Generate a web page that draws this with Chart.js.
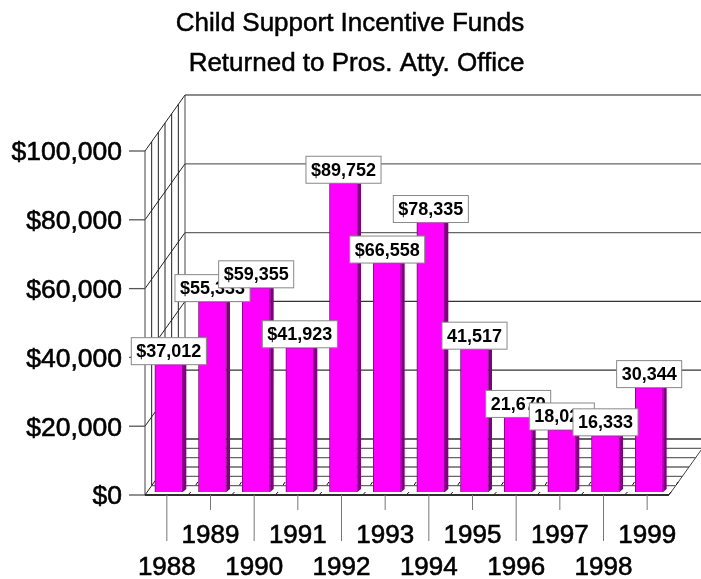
<!DOCTYPE html>
<html lang="en">
<head>
    <meta charset="UTF-8">
    <title>Child Support Incentive Funds</title>
    <script src="https://cdn.jsdelivr.net/npm/chart.js"></script>
    <style>
        html, body { margin: 0; padding: 0; background: #fff; }
        canvas { display: block; }
    </style>
</head>
<body>
    <canvas id="chart" width="701" height="579"></canvas>
    <script>
        const years = ['1988', '1989', '1990', '1991', '1992', '1993', '1994', '1995', '1996', '1997', '1998', '1999'];
        const funds = [37012, 55333, 59355, 41923, 89752, 66558, 78335, 41517, 21679, 18024, 16333, 30344];
        const barLabels = ['$37,012', '$55,333', '$59,355', '$41,923', '$89,752', '$66,558', '$78,335', '41,517', '21,679', '18,024', '16,333', '30,344'];
        const titleLines = ['Child Support Incentive Funds', 'Returned to Pros. Atty. Office'];

        const FONT = '"Liberation Sans", Arial, sans-serif';
        const DEPTH_X = 40, DEPTH_Y = 56, DEPTH_STEPS = 6;

        function line(ctx, x1, y1, x2, y2, color, width) {
            ctx.strokeStyle = color;
            ctx.lineWidth = width;
            ctx.beginPath();
            ctx.moveTo(x1, y1);
            ctx.lineTo(x2, y2);
            ctx.stroke();
        }

        // walls and floor behind the bars
        const walls = {
            id: 'walls',
            beforeDatasetsDraw(chart) {
                const { ctx, scales: { x, y }, chartArea: a } = chart;
                ctx.save();
                y.ticks.forEach(t => {
                    const py = y.getPixelForValue(t.value);
                    line(ctx, a.left, py, a.left + DEPTH_X, py - DEPTH_Y, '#222', 1);
                    line(ctx, a.left + DEPTH_X, py - DEPTH_Y, 701, py - DEPTH_Y, t.value > 40000 ? '#666' : '#333', 1.3);
                    line(ctx, a.left - 16, py, a.left, py, '#555', 1.3);
                });
                for (let i = 0; i <= DEPTH_STEPS; i++) {
                    const dx = DEPTH_X * i / DEPTH_STEPS, dy = DEPTH_Y * i / DEPTH_STEPS;
                    line(ctx, a.left + dx, a.top - dy, a.left + dx, a.bottom - dy, i % 6 ? '#222' : '#444', 1);
                    line(ctx, a.left + dx, a.bottom - dy, Math.min(a.right + dx, 701), a.bottom - dy, '#666', 1.3);
                }
                line(ctx, a.right, a.bottom, a.right + DEPTH_X, a.bottom - DEPTH_Y, '#444', 1);
                line(ctx, a.left, a.bottom, a.right, a.bottom, '#111', 1.5);
                // x axis ticks, long ones for the lower label row
                years.forEach((yr, i) => {
                    const px = x.getPixelForTick(i);
                    line(ctx, px, a.bottom, px, a.bottom + (i % 2 ? 15 : 46), '#777', 1);
                });
                // bar side faces and short floor marks
                chart.getDatasetMeta(0).data.forEach(b => {
                    const right = b.x + b.width / 2 + 2;
                    const top = b.y - 3, base = b.base - 3;
                    ctx.fillStyle = '#800080';
                    ctx.beginPath();
                    ctx.moveTo(right, top);
                    ctx.lineTo(right + 3.5, top);
                    ctx.lineTo(right + 3.5, base - 3);
                    ctx.lineTo(right, base);
                    ctx.closePath();
                    ctx.fill();
                    line(ctx, right + 6, a.bottom - 1, right + 8, a.bottom - 3, '#111', 1);
                    line(ctx, right + 13, a.bottom - 10, right + 15, a.bottom - 13, '#111', 1);
                });
                ctx.restore();
                // bars sit slightly right of and above the front axis
                ctx.save();
                ctx.translate(2, -3);
            },
            afterDatasetsDraw(chart) {
                const { ctx } = chart;
                ctx.restore();
                // value boxes, later ones cover earlier ones
                ctx.save();
                ctx.font = 'bold 18px ' + FONT;
                ctx.textAlign = 'center';
                ctx.textBaseline = 'middle';
                chart.getDatasetMeta(0).data.forEach((b, i) => {
                    const w = ctx.measureText(barLabels[i]).width + 10, h = 27;
                    const cx = b.x + 2, top = b.y - 3 - h;
                    ctx.fillStyle = '#fff';
                    ctx.fillRect(cx - w / 2, top, w, h);
                    ctx.strokeStyle = '#888';
                    ctx.lineWidth = 1;
                    ctx.strokeRect(cx - w / 2, top, w, h);
                    ctx.fillStyle = '#000';
                    ctx.fillText(barLabels[i], cx, top + h / 2 + 1);
                });
                ctx.restore();
                // title
                ctx.save();
                ctx.font = '26px ' + FONT;
                ctx.fillStyle = '#000';
                ctx.strokeStyle = '#000';
                ctx.lineWidth = 0.5;
                ctx.textAlign = 'center';
                ctx.fillText(titleLines[0], 350, 31);
                ctx.strokeText(titleLines[0], 350, 31);
                ctx.fillText(titleLines[1], 356.5, 71);
                ctx.strokeText(titleLines[1], 356.5, 71);
                ctx.restore();
            }
        };

        new Chart(document.getElementById('chart'), {
            type: 'bar',
            data: {
                labels: years,
                datasets: [{
                    data: funds,
                    backgroundColor: '#ff00ff',
                    borderColor: '#800080',
                    borderWidth: 1,
                    barThickness: 28,
                    clip: false
                }]
            },
            options: {
                responsive: false,
                animation: false,
                layout: { autoPadding: false, padding: { top: 151, right: 32 } },
                plugins: { legend: { display: false }, tooltip: { enabled: false } },
                scales: {
                    x: {
                        grid: { display: false, drawTicks: false },
                        border: { display: false },
                        afterFit: s => {
                            s.height = 84;
                            s.paddingLeft = 0;
                            s.paddingRight = 0;
                        },
                        ticks: {
                            color: '#000',
                            textStrokeColor: '#000',
                            textStrokeWidth: 0.6,
                            autoSkip: false,
                            maxRotation: 0,
                            padding: 25,
                            font: { family: FONT, size: 26, lineHeight: 1.23 },
                            callback: (v, i) => i % 2 ? years[i] : ['', years[i]]
                        }
                    },
                    y: {
                        min: 0,
                        max: 100000,
                        grid: { display: false, drawTicks: false },
                        border: { display: false },
                        afterFit: s => { s.width = 145; },
                        ticks: {
                            color: '#000',
                            textStrokeColor: '#000',
                            textStrokeWidth: 0.6,
                            stepSize: 20000,
                            padding: 23,
                            font: { family: FONT, size: 26.5, lineHeight: '4px' },
                            // empty first line nudges the label down a little
                            callback: v => ['', '$' + v.toLocaleString('en-US')]
                        }
                    }
                }
            },
            plugins: [walls]
        });
    </script>
</body>
</html>
